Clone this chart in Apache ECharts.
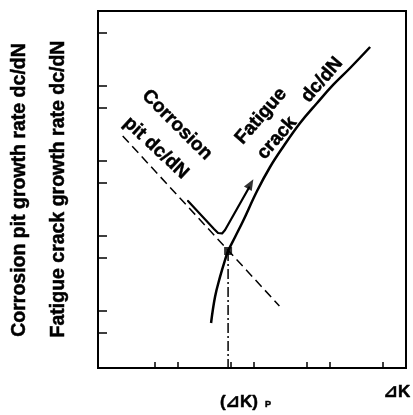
<!DOCTYPE html>
<html>
<head>
<meta charset="utf-8">
<script src="https://cdn.jsdelivr.net/npm/echarts@6/dist/echarts.min.js"></script>
<style>
html,body{margin:0;padding:0;background:#fff;}
#chart{width:413px;height:415px;}
</style>
</head>
<body>
<div id="chart"></div>
<script>
// Axis ticks (log10 scale, decade marks at 1 and 2)
const xTicks = [0, 0.301, 1, 1.301, 2, 2.301, 3];
const yTicks = [0, 0.301, 1, 1.301, 2, 2.301, 3, 3.301, 4];

// Corrosion pit growth rate (dashed straight line)
const pitLine = [[-0.425, 2.627], [1.636, 0.36]];

// Fatigue crack growth rate curve
const crackCurve = [
  [0.737, 0.133], [0.789, 0.48], [0.855, 0.747], [0.921, 0.973], [0.961, 1.093],
  [1.053, 1.28], [1.158, 1.493], [1.342, 1.893], [1.513, 2.213], [1.684, 2.48],
  [1.908, 2.8], [2.132, 3.067], [2.342, 3.307], [2.566, 3.533], [2.829, 3.813]
];

// Transition path (pit -> crack) with arrowhead
const transitionPath = [
  [0.434, 1.76], [0.776, 1.387], [0.829, 1.333], [0.882, 1.327], [0.921, 1.373], [1.237, 1.94]
];
const arrowHead = [[1.257, 1.987]];

// Transition point (ΔK)p
const transitionPoint = [[0.961, 1.093]];
const yMin = -0.467, yMax = 4.293, xMin = -0.75, xMax = 3.301;
const dropLine = [[0.961, 1.093], [0.961, yMin]];

const FONT = "'Liberation Sans', Arial, 'DejaVu Sans', 'Noto Sans CJK JP', sans-serif";
function txt(x, y, deg, text, size) {
  return {type: 'text', x: x, y: y, rotation: deg * Math.PI / 180,
    style: {text: text, font: 'bold ' + size + 'px ' + FONT, fill: '#000', stroke: '#000', lineWidth: 0.5,
      align: 'center', verticalAlign: 'middle'}};
}

const chart = echarts.init(document.getElementById('chart'), null, {renderer: 'canvas'});
chart.setOption({
  animation: false,
  backgroundColor: '#fff',
  grid: {left: 98, right: 7, top: 11, bottom: 47, show: true, borderColor: '#000', borderWidth: 2, backgroundColor: 'transparent'},
  xAxis: {
    type: 'value', min: xMin, max: xMax,
    axisLine: {show: true, onZero: false, lineStyle: {color: '#000', width: 2}},
    axisTick: {show: true, inside: true, length: 6, customValues: xTicks, lineStyle: {color: '#000', width: 1.5}},
    axisLabel: {show: false},
    splitLine: {show: false}
  },
  yAxis: {
    type: 'value', min: yMin, max: yMax,
    axisLine: {show: true, onZero: false, lineStyle: {color: '#000', width: 2}},
    axisTick: {show: true, inside: true, length: 9, customValues: yTicks, lineStyle: {color: '#000', width: 1.5}},
    axisLabel: {show: false},
    splitLine: {show: false}
  },
  series: [
    {type: 'line', data: pitLine, showSymbol: false, lineStyle: {color: '#000', width: 1.5, type: [9, 5]}},
    {type: 'line', data: crackCurve, smooth: 0.4, showSymbol: false, lineStyle: {color: '#000', width: 2.5}},
    {type: 'line', data: transitionPath, showSymbol: false, lineStyle: {color: '#000', width: 2.2, join: 'round', cap: 'round'}},
    {type: 'scatter', data: arrowHead, symbol: 'triangle', symbolSize: [9, 11], symbolRotate: -30, itemStyle: {color: '#000'}},
    {type: 'line', data: dropLine, showSymbol: false, lineStyle: {color: '#000', width: 1.5, type: [10, 3, 2, 3]}},
    {type: 'scatter', data: transitionPoint, symbol: 'rect', symbolSize: 8, itemStyle: {color: '#000'}}
  ],
  graphic: [
    txt(20, 190, 90, 'Corrosion pit growth rate dc/dN', 19.5),
    txt(59, 189, 90, 'Fatigue crack growth rate dc/dN', 19.5),
    txt(177, 125, -45, 'Corrosion', 19),
    txt(156, 148, -43, 'pit dc/dN', 19),
    txt(261, 116, 49, 'Fatigue', 19),
    txt(277, 138, 49, 'crack', 19),
    txt(322, 80, 49, 'dc/dN', 19),
    txt(239, 402, 0, '(⊿K)', 17),
    txt(268, 405, 0, 'P', 9),
    txt(397, 392, 0, '⊿K', 17)
  ]
});
</script>
</body>
</html>
